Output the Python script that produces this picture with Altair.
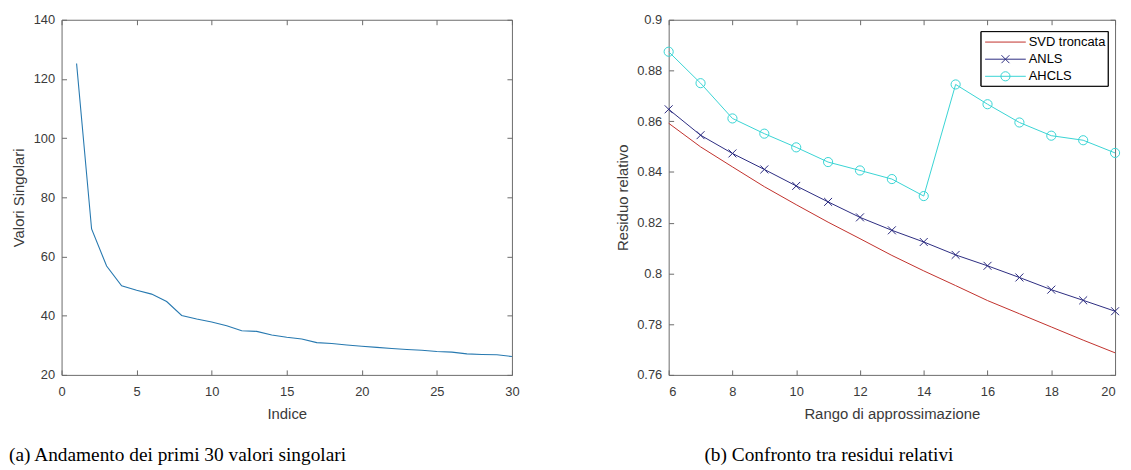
import altair as alt
import pandas as pd

# ---------------- data ----------------
indice = list(range(1, 31))
valori_singolari = [125.2, 69.3, 56.8, 50.1, 48.6, 47.3, 44.8, 40.1, 38.9, 37.9,
                    36.6, 34.9, 34.7, 33.5, 32.7, 32.1, 30.9, 30.6, 30.1, 29.7,
                    29.3, 28.9, 28.6, 28.3, 27.9, 27.7, 27.1, 26.9, 26.8, 26.2]

rango = list(range(6, 21))
svd_troncata = [0.8592, 0.8499, 0.8420, 0.8342, 0.8271, 0.8202, 0.8137, 0.8071,
                0.8010, 0.7952, 0.7893, 0.7841, 0.7789, 0.7737, 0.7687]
anls = [0.8647, 0.8545, 0.8473, 0.8410, 0.8345, 0.8282, 0.8221, 0.8170,
        0.8124, 0.8073, 0.8030, 0.7984, 0.7936, 0.7894, 0.7851]
ahcls = [0.8874, 0.8750, 0.8611, 0.8551, 0.8497, 0.8439, 0.8406, 0.8372,
         0.8305, 0.8745, 0.8667, 0.8595, 0.8543, 0.8525, 0.8475]

serie = ["SVD troncata", "ANLS", "AHCLS"]
colori = ["#c0302b", "#2a2a80", "#38d3d3"]

x_ticks_a = [0, 5, 10, 15, 20, 25, 30]
y_ticks_a = [20, 40, 60, 80, 100, 120, 140]
x_ticks_b = [6, 8, 10, 12, 14, 16, 18, 20]
y_ticks_b = [0.76, 0.78, 0.8, 0.82, 0.84, 0.86, 0.88, 0.9]

caption_a = "(a) Andamento dei primi 30 valori singolari"
caption_b = "(b) Confronto tra residui relativi"

# ---------------- styles ----------------
GRAY = "#6a6a6a"
TXT = "#3a3a3a"
TICK_IN = {"expr": "-5"}
SANS = "Liberation Sans"


def mk_axis(orient, values, title=None, labels=True, pad=8, tpad=6, flush=False, fmt="d"):
    return alt.Axis(orient=orient, values=values, tickSize=TICK_IN, tickColor=GRAY,
                    domain=False, grid=False, labels=labels, ticks=True, title=title,
                    labelPadding=pad, titlePadding=tpad, format=fmt, labelFlush=flush,
                    labelFont=SANS, titleFont=SANS, labelFontSize=13, titleFontSize=15,
                    labelColor=TXT, titleColor=TXT, titleFontWeight="normal")


def frame_layer(df, xf, yf, xsc, ysc, xvals, yvals):
    return alt.Chart(df).mark_line(opacity=0).encode(
        x=alt.X(xf, scale=xsc, axis=mk_axis("top", xvals, labels=False)),
        y=alt.Y(yf, scale=ysc, axis=mk_axis("right", yvals, labels=False)),
    )


# ---------------- panel (a) ----------------
df_a = pd.DataFrame({"Indice": indice, "Valori": valori_singolari})
xs_a = alt.Scale(domain=[0, 30], nice=False, zero=False)
ys_a = alt.Scale(domain=[20, 140], nice=False, zero=False)

line_a = alt.Chart(df_a).mark_line(color="#2779b0", strokeWidth=1.1).encode(
    x=alt.X("Indice:Q", scale=xs_a,
            axis=mk_axis("bottom", x_ticks_a, title="Indice", pad=16, tpad=8)),
    y=alt.Y("Valori:Q", scale=ys_a,
            axis=mk_axis("left", y_ticks_a, title="Valori Singolari", pad=12, tpad=7)),
)
panel_a = alt.layer(
    alt.layer(line_a),
    frame_layer(df_a, "Indice:Q", "Valori:Q", xs_a, ys_a, x_ticks_a, y_ticks_a),
).resolve_scale(x="independent", y="independent").properties(
    width=454, height=358,
    title=alt.TitleParams(caption_a, orient="bottom", anchor="start", frame="group",
                          dx=-53, offset=25, font="Liberation Serif", fontSize=19.5,
                          fontWeight="normal", color="black", baseline="top"),
)

# ---------------- panel (b) ----------------
df_b = pd.DataFrame({
    "Rango": rango * 3,
    "Residuo": svd_troncata + anls + ahcls,
    "Serie": [s for s in serie for _ in rango],
})
xs_b = alt.Scale(domain=[6, 20], nice=False, zero=False)
ys_b = alt.Scale(domain=[0.76, 0.9], nice=False, zero=False)
xb = alt.X("Rango:Q", scale=xs_b,
           axis=mk_axis("bottom", x_ticks_b, title="Rango di approssimazione",
                        pad=16, tpad=8, flush=True))
yb = alt.Y("Residuo:Q", scale=ys_b,
           axis=mk_axis("left", y_ticks_b, title="Residuo relativo", pad=12, tpad=6,
                        fmt="~r"))
col_scale = alt.Scale(domain=serie, range=colori)

lines_b = alt.Chart(df_b).mark_line(strokeWidth=1).encode(
    x=xb, y=yb, color=alt.Color("Serie:N", scale=col_scale, legend=None),
)
X_PATH = "M-1,-1L1,1M-1,1L1,-1"
pts_anls = alt.Chart(df_b).transform_filter(alt.datum.Serie == "ANLS").mark_point(
    shape=X_PATH, size=64, filled=False, strokeWidth=1, color=colori[1], opacity=1
).encode(x=xb, y=yb)
pts_ahcls = alt.Chart(df_b).transform_filter(alt.datum.Serie == "AHCLS").mark_point(
    shape="circle", size=85, filled=False, strokeWidth=1, color=colori[2], opacity=1
).encode(x=xb, y=yb)

# ---------------- legend (drawn as a small guide layer) ----------------
df_leg = pd.DataFrame({"Serie": serie})
leg_y = alt.Y("Serie:N", axis=None,
              scale=alt.Scale(type="point", domain=serie, range=[22.5, 57], padding=0))
leg_color = alt.Color("Serie:N", scale=col_scale, legend=None)
leg_box = alt.Chart(df_leg).mark_rect(fill="white", stroke="black", strokeWidth=1).encode(
    x=alt.value(315), x2=alt.value(443), y=alt.value(12), y2=alt.value(67))
leg_rules = alt.Chart(df_leg).mark_rule(strokeWidth=1).encode(
    x=alt.value(319), x2=alt.value(360), y=leg_y, color=leg_color)
leg_x = alt.Chart(df_leg).transform_filter(alt.datum.Serie == "ANLS").mark_point(
    shape=X_PATH, size=64, filled=False, strokeWidth=1, opacity=1).encode(
    x=alt.value(339.5), y=leg_y, color=leg_color)
leg_o = alt.Chart(df_leg).transform_filter(alt.datum.Serie == "AHCLS").mark_point(
    shape="circle", size=85, filled=False, strokeWidth=1, opacity=1).encode(
    x=alt.value(339.5), y=leg_y, color=leg_color)
leg_text = alt.Chart(df_leg).mark_text(align="left", baseline="middle", font=SANS,
                                       fontSize=13, color="black").encode(
    x=alt.value(363), y=leg_y, text="Serie:N")
legend_group = alt.layer(leg_box, leg_rules, leg_x, leg_o, leg_text)

panel_b = alt.layer(
    alt.layer(lines_b, pts_anls, pts_ahcls),
    frame_layer(df_b, "Rango:Q", "Residuo:Q", xs_b, ys_b, x_ticks_b, y_ticks_b),
    legend_group,
).resolve_scale(x="independent", y="independent").properties(
    width=450, height=358,
    title=alt.TitleParams(caption_b, orient="bottom", anchor="start", frame="group",
                          dx=36, offset=25, font="Liberation Serif", fontSize=19.5,
                          fontWeight="normal", color="black", baseline="top"),
)

chart = alt.hconcat(panel_a, panel_b, spacing=96).properties(
    padding={"left": 0, "top": 3, "right": 0, "bottom": 0},
    background="white",
).configure_view(stroke=GRAY, strokeWidth=1)

chart.save("out.html", embed_options={"renderer": "svg", "actions": False})
